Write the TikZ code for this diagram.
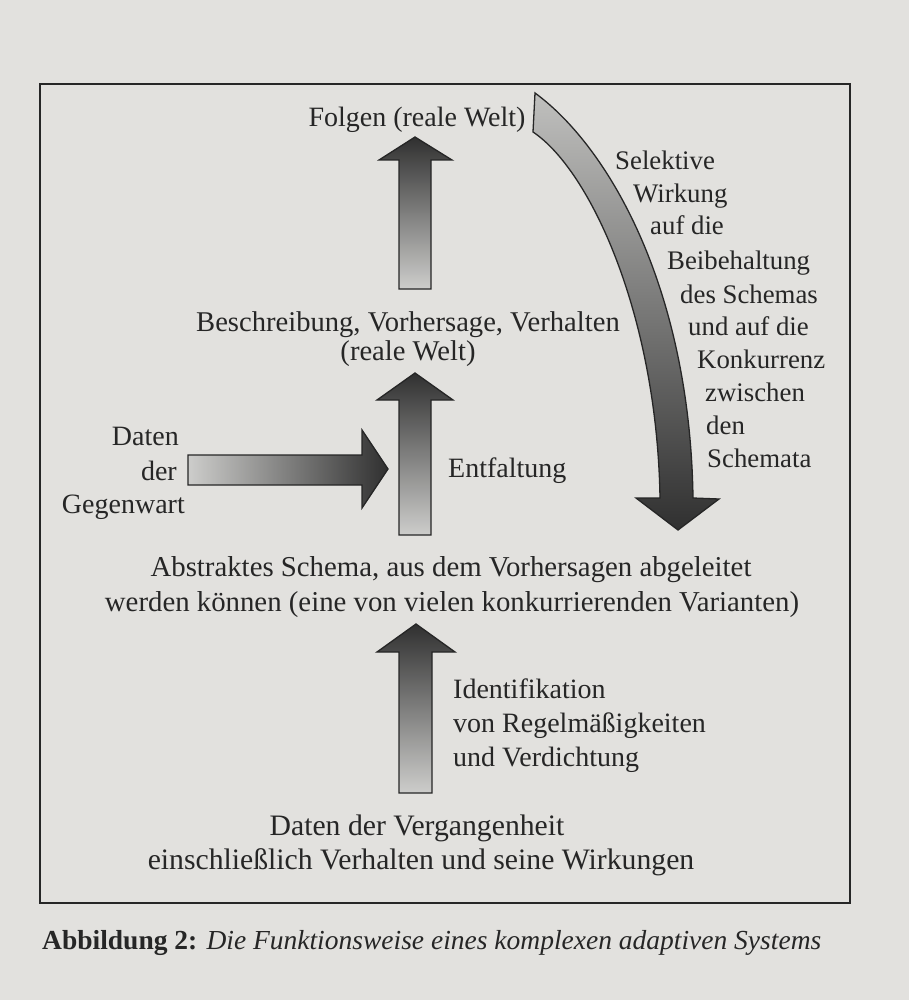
\documentclass[tikz,border=0pt]{standalone}
\usepackage{fontspec}
\setmainfont{Liberation Serif}
\definecolor{paper}{RGB}{226,225,222}
\definecolor{dark}{RGB}{48,48,48}
\definecolor{light}{RGB}{205,205,203}
\begin{document}
\begin{tikzpicture}[x=1pt,y=-1pt,
  txt/.style={font=\fontsize{28}{34}\selectfont, inner sep=0pt, text=black!85},
  rtxt/.style={font=\fontsize{26.8}{33}\selectfont, inner sep=0pt, text=black!85, anchor=base west},
  blockup/.style={draw=black!85, line width=1.3pt, top color=dark, bottom color=light},
  blockright/.style={draw=black!85, line width=1.3pt, left color=light, right color=dark},
  blockcurve/.style={draw=black!85, line width=1.3pt, top color={rgb,255:red,192;green,192;blue,190}, bottom color=dark}]
\useasboundingbox (0,0) rectangle (909,1000);
\fill[paper] (0,0) rectangle (909,1000);
\draw[line width=2.5pt, black!85] (40,84) rectangle (850,903);

% arrows
\shade[blockup] (399,289) -- (399,160) -- (379,160) -- (415,137) -- (452,160) -- (431,160) -- (431,289) -- cycle;
\shade[blockup] (399,535) -- (399,400) -- (377,400) -- (415,373) -- (453,400) -- (431,400) -- (431,535) -- cycle;
\shade[blockup] (399,793) -- (399,652) -- (377,652) -- (416,624) -- (455,652) -- (432,652) -- (432,793) -- cycle;
\shade[blockright] (188,455) -- (362,455) -- (362,430) -- (388,469) -- (362,508) -- (362,485) -- (188,485) -- cycle;
\shade[blockcurve] (535,93) .. controls (610,148) and (690,290) .. (693,498)
  -- (719,499) -- (678,530) -- (636,498) -- (660,498)
  .. controls (657,315) and (590,170) .. (533,132) -- cycle;

% texts
\node[txt, anchor=base] (folgen) at (417,127) {Folgen (reale Welt)};
\node[txt, anchor=base, font=\fontsize{28.6}{34}\selectfont] (beschr1) at (408,331) {Beschreibung, Vorhersage, Verhalten};
\node[txt, anchor=base, font=\fontsize{28.6}{34}\selectfont] (beschr2) at (408,360) {(reale Welt)};
\node[txt, anchor=base east] (gd1) at (179,445) {Daten};
\node[txt, anchor=base east] (gd2) at (177,480) {der};
\node[txt, anchor=base east] (gd3) at (185,513) {Gegenwart};
\node[txt, anchor=base west] (entf) at (448,477) {Entfaltung};
\node[txt, anchor=base, font=\fontsize{28.8}{34}\selectfont] (schema1) at (451,576) {Abstraktes Schema, aus dem Vorhersagen abgeleitet};
\node[txt, anchor=base, font=\fontsize{28.8}{34}\selectfont] (schema2) at (452,611) {werden können (eine von vielen konkurrierenden Varianten)};
\node[txt, anchor=base west] (ident1) at (453,698) {Identifikation};
\node[txt, anchor=base west] (ident2) at (453,732) {von Regelmäßigkeiten};
\node[txt, anchor=base west] (ident3) at (453,766) {und Verdichtung};
\node[txt, anchor=base, font=\fontsize{29.7}{34}\selectfont] (verg1) at (417,835) {Daten der Vergangenheit};
\node[txt, anchor=base, font=\fontsize{29.7}{34}\selectfont] (verg2) at (421,869) {einschließlich Verhalten und seine Wirkungen};

\node[rtxt] (r1) at (615,170) {Selektive};
\node[rtxt] (r2) at (633,203) {Wirkung};
\node[rtxt] (r3) at (650,235) {auf die};
\node[rtxt] (r4) at (667,269) {Beibehaltung};
\node[rtxt] (r5) at (680,303) {des Schemas};
\node[rtxt] (r6) at (688,335) {und auf die};
\node[rtxt] (r7) at (697,368) {Konkurrenz};
\node[rtxt] (r8) at (705,401) {zwischen};
\node[rtxt] (r9) at (706,434) {den};
\node[rtxt] (r10) at (707,467) {Schemata};

\node[anchor=base west, inner sep=0pt, text=black!85, font=\fontsize{27.5}{32}\selectfont] (caption) at (42,949) {\textbf{Abbildung 2:} \textit{Die Funktionsweise eines komplexen adaptiven Systems}};
\end{tikzpicture}
\end{document}
